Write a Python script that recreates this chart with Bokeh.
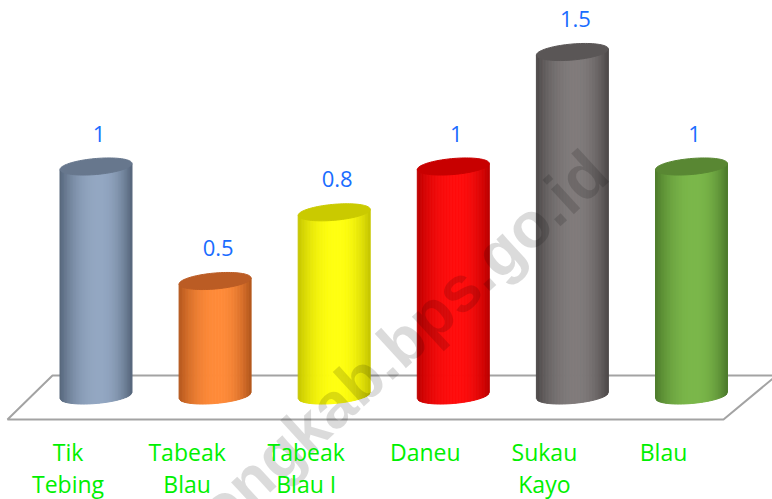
import numpy as np
from bokeh.plotting import figure
from bokeh.models import Range1d
from bokeh.core.properties import value
from bokeh.embed import file_html
from bokeh.resources import INLINE

# ---- data ----
categories = ["Tik Tebing", "Tabeak Blau", "Tabeak Blau I", "Daneu", "Sukau Kayo", "Blau"]
label_line1 = ["Tik", "Tabeak", "Tabeak", "Daneu", "Sukau", "Blau"]
label_line2 = ["Tebing", "Blau", "Blau I", "", "Kayo", ""]
values = [1, 0.5, 0.8, 1, 1.5, 1]
light_cols = ["#93a7c2", "#ff8b3a", "#ffff10", "#ff0d0d", "#807b7b", "#7bb74a"]
dark_cols = ["#55657a", "#b2561c", "#c4c400", "#bb0000", "#4c4848", "#4c7a2b"]
cap_cols = ["#67778d", "#bb5c24", "#caca00", "#c80000", "#5a5656", "#598733"]
watermark = "lebongkab.bps.go.id"

# ---- layout scales (pixels per unit) ----
W, H = 772, 499
SX, SY = 119.1, 229.0       # px per category step, px per value unit
X0, Y0 = 95.5, 395.0        # pixel position of first category / zero value

p = figure(width=W, height=H, output_backend="svg", toolbar_location=None,
           x_range=Range1d(-X0 / SX, (W - X0) / SX),
           y_range=Range1d(-(H - Y0) / SY, Y0 / SY),
           x_axis_type=None, y_axis_type=None, min_border=0,
           outline_line_color=None, background_fill_color="white",
           border_fill_color="white")
p.grid.visible = False

def px_x(px):
    return (px - X0) / SX

def px_y(py):
    return (Y0 - py) / SY

# floor
p.patch([px_x(7), px_x(52), px_x(776), px_x(723)],
        [px_y(419), px_y(375), px_y(375), px_y(419)],
        fill_color="white", line_color="#a3a3a3", line_width=2)

def hex2rgb(h):
    h = h.lstrip("#")
    return np.array([int(h[i:i + 2], 16) for i in (0, 2, 4)], dtype=float)

def rgb2hex(c):
    c = np.clip(np.round(c), 0, 255).astype(int)
    return "#%02x%02x%02x" % tuple(c)

A, B, TILT = 36.0, 8.0, 3.0
N = 48
xs_all, ys_all, cols_all = [], [], []
cap_xs, cap_ys, cap_c = [], [], []
for i, v in enumerate(values):
    lc, dc = hex2rgb(light_cols[i]), hex2rgb(dark_cols[i])
    s = np.linspace(0, 1, N + 1)
    u = 2 * s - 1
    xe = i + u * A / SX
    ybot = (-B * np.sqrt(np.clip(1 - u ** 2, 0, 1)) + TILT * u) / SY
    ytop = v + (TILT * u) / SY
    for k in range(N):
        sm = 0.5 * (s[k] + s[k + 1])
        d = (0.55 - sm) / 0.55 if sm < 0.55 else (sm - 0.55) / 0.45
        g = 1 - d ** 2.2
        col = rgb2hex(dc + (lc - dc) * g)
        xs_all.append([xe[k], xe[k + 1], xe[k + 1], xe[k]])
        ys_all.append([ybot[k], ybot[k + 1], ytop[k + 1], ytop[k]])
        cols_all.append(col)
    th = np.linspace(0, 2 * np.pi, 90)
    cap_xs.append(list(i + A * np.cos(th) / SX))
    cap_ys.append(list(v + (B * np.sin(th) + TILT * np.cos(th)) / SY))
    cap_c.append(cap_cols[i])

p.patches(xs_all, ys_all, fill_color=cols_all, line_color=cols_all, line_width=1)
p.patches(cap_xs, cap_ys, fill_color=cap_c, line_color=cap_c, line_width=1)

# watermark
p.text(x=[px_x(597)], y=[px_y(162)], text=[watermark], angle=0.742,
       text_align="right", text_baseline="middle",
       text_font=value("Liberation Sans"), text_font_style="bold",
       text_font_size="64px", text_color="black", text_alpha=0.14)

# value labels
xi = list(range(len(values)))
p.text(x=[x + 3 / SX for x in xi], y=[v + 33 / SY for v in values],
       text=[f"{v:g}" for v in values], text_align="center", text_baseline="middle",
       text_font=value("Open Sans"), text_font_size="22px", text_color="#1a6dff")

# category labels
p.text(x=[x - 28 / SX for x in xi], y=[px_y(451)] * len(xi), text=label_line1,
       text_align="center", text_baseline="middle",
       text_font=value("Open Sans"), text_font_size="23px", text_color="#00f000")
p.text(x=[x - 28 / SX for x in xi], y=[px_y(483)] * len(xi), text=label_line2,
       text_align="center", text_baseline="middle",
       text_font=value("Open Sans"), text_font_size="23px", text_color="#00f000")

open("out.html", "w").write(file_html(p, INLINE))
